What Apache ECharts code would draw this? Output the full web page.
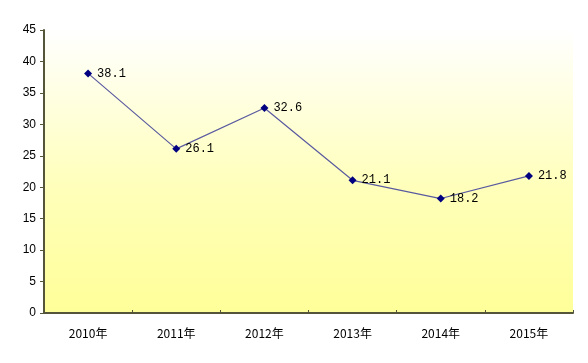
<!DOCTYPE html>
<html><head><meta charset="utf-8">
<script src="https://cdn.jsdelivr.net/npm/echarts@6/dist/echarts.min.js"></script>
<style>html,body{margin:0;padding:0;background:#fff}#c{width:588px;height:363px}</style>
</head><body><div id="c"></div>
<script>
const categories = ['2010年','2011年','2012年','2013年','2014年','2015年'];
const values = [38.1, 26.1, 32.6, 21.1, 18.2, 21.8];
const yTicks = {min: 0, max: 45, interval: 5};

const chart = echarts.init(document.getElementById('c'));
chart.setOption({
  animation: false,
  grid: {
    left: 44, right: 15, top: 30, bottom: 50, show: true, borderWidth: 0,
    backgroundColor: new echarts.graphic.LinearGradient(0, 0, 0, 1, [
      {offset: 0, color: '#ffffff'},
      {offset: 0.55, color: '#ffffbb'},
      {offset: 1, color: '#ffff99'}
    ])
  },
  xAxis: {
    type: 'category', data: categories, boundaryGap: true,
    axisLine: {lineStyle: {color: '#55553a', width: 2}},
    axisTick: {show: true, inside: true, length: 3, lineStyle: {color: '#55553a'}},
    axisLabel: {color: '#000', fontSize: 12, margin: 14, fontFamily: 'Noto Sans CJK SC'}
  },
  yAxis: {
    type: 'value', min: yTicks.min, max: yTicks.max, interval: yTicks.interval,
    axisLine: {show: true, lineStyle: {color: '#55553a', width: 2}},
    axisTick: {show: true, length: 4, lineStyle: {color: '#55553a'}},
    splitLine: {show: false},
    axisLabel: {color: '#000', fontSize: 12, margin: 8, fontFamily: 'Liberation Sans'}
  },
  series: [{
    type: 'line', data: values,
    symbol: 'diamond', symbolSize: 8,
    itemStyle: {color: '#000080'},
    lineStyle: {color: '#5a5aa0', width: 1.2},
    label: {show: true, position: 'right', distance: 5, color: '#000', fontSize: 12,
      fontFamily: 'Liberation Mono', formatter: p => p.value.toFixed(1)}
  }]
});
</script></body></html>
